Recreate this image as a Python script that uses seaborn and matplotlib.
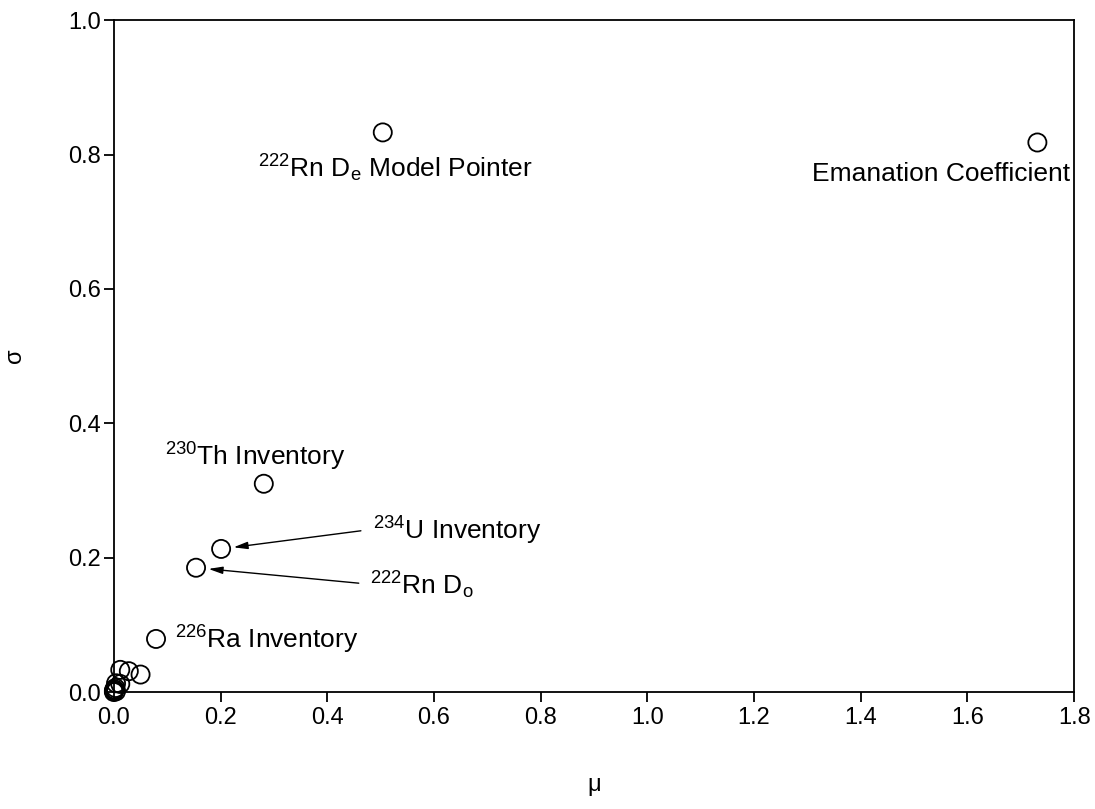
import matplotlib
matplotlib.use("Agg")
import matplotlib.pyplot as plt
import seaborn as sns
import pandas as pd

# data (mu, sigma)
mu = [1.731, 0.504, 0.281, 0.201, 0.154, 0.079,
      0.012, 0.028, 0.050, 0.004, 0.012, 0.003, 0.001, 0.0, 0.004, 0.0]
sigma = [0.818, 0.833, 0.310, 0.213, 0.185, 0.079,
         0.033, 0.031, 0.026, 0.013, 0.012, 0.006, 0.004, 0.002, 0.001, 0.0]

labels = [r"Emanation Coefficient",
          r"$^{222}$Rn D$_e$ Model Pointer",
          r"$^{230}$Th Inventory",
          r"$^{234}$U Inventory",
          r"$^{222}$Rn D$_o$",
          r"$^{226}$Ra Inventory"]

x_ticks = [0.0, 0.2, 0.4, 0.6, 0.8, 1.0, 1.2, 1.4, 1.6, 1.8]
y_ticks = [0.0, 0.2, 0.4, 0.6, 0.8, 1.0]

df = pd.DataFrame({"mu": mu, "sigma": sigma})

sns.set_theme(style="white")
plt.rcParams["font.family"] = ["Liberation Sans", "DejaVu Sans"]
plt.rcParams["mathtext.fontset"] = "custom"
plt.rcParams["mathtext.rm"] = "Liberation Sans"
plt.rcParams["mathtext.it"] = "Liberation Sans"
plt.rcParams["mathtext.default"] = "regular"
plt.rcParams["text.color"] = "black"
plt.rcParams["axes.labelcolor"] = "black"

fig = plt.figure(figsize=(10.95, 8.09), dpi=100)
ax = fig.add_axes([0.104, 0.1446, 0.877, 0.8304])

sns.scatterplot(data=df, x="mu", y="sigma", ax=ax, s=170, marker="o",
                facecolors="none", edgecolor="black", linewidth=1.3,
                clip_on=False, zorder=5)

ax.set_xlim(0, 1.8)
ax.set_ylim(0, 1.0)
ax.set_xticks(x_ticks)
ax.set_yticks(y_ticks)
ax.set_xticklabels([f"{t:.1f}" for t in x_ticks])
ax.set_yticklabels([f"{t:.1f}" for t in y_ticks])
ax.tick_params(axis="both", which="major", direction="out", length=7, width=1.3,
               labelsize=17, colors="black", bottom=True, left=True, pad=4)
ax.tick_params(axis="y", pad=2.5)
for sp in ax.spines.values():
    sp.set_color("black")
    sp.set_linewidth(1.3)

ax.set_xlabel("μ", fontsize=17, labelpad=32)
ax.set_ylabel("σ", fontsize=17, labelpad=30)

fs = 19
# label placements (text positions in data coords)
ax.text(1.7925, 0.771, labels[0], ha="right", va="center", fontsize=fs)
ax.text(0.270, 0.780, labels[1], ha="left", va="center", fontsize=fs)
ax.text(0.0956, 0.350, labels[2], ha="left", va="center", fontsize=fs)
ax.text(0.486, 0.240, labels[3], ha="left", va="center", fontsize=fs)
ax.text(0.480, 0.159, labels[4], ha="left", va="center", fontsize=fs)
ax.text(0.114, 0.077, labels[5], ha="left", va="center", fontsize=fs)

arrow = dict(arrowstyle="-|>,head_length=0.7,head_width=0.18", color="black",
             lw=1.0, shrinkA=0, shrinkB=9)
ax.annotate("", xy=(mu[3], sigma[3]), xytext=(0.463, 0.240), arrowprops=arrow)
ax.annotate("", xy=(mu[4], sigma[4]), xytext=(0.459, 0.162), arrowprops=arrow)

fig.savefig("out.png", dpi=100)
